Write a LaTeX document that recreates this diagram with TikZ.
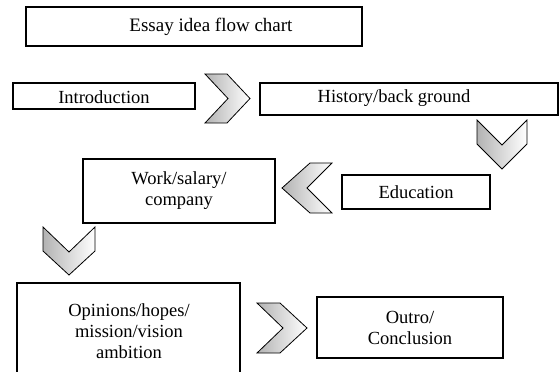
\documentclass[tikz,border=0pt]{standalone}
\usepackage{fontspec}
\setmainfont{Liberation Serif}
\begin{document}
\begin{tikzpicture}[x=1pt,y=-1pt,
  box/.style={draw, line width=1.3pt, fill=white, inner sep=0pt},
  chev/.style={draw, line width=0.8pt, line join=miter, left color=gray!60, right color=white},
  txt/.style={font=\fontsize{18.5}{21}\selectfont, align=center, inner sep=0pt}]
\useasboundingbox (0,0) rectangle (560,372);
\clip (0,0) rectangle (560,372);
% boxes
\node[box, minimum width=336, minimum height=39] (title) at (194,26.5) {};
\node[txt, font=\fontsize{19}{21}\selectfont] (titletext) at (211,27) {Essay idea flow chart};
\node[box, minimum width=182, minimum height=26] (intro) at (104,96) {};
\node[txt, anchor=base] (introtext) at (104,103.5) {Introduction};
\node[box, minimum width=298, minimum height=32] (hist) at (409,99) {};
\node[txt] (histtext) at (394,98) {History/back ground};
\node[box, txt, minimum width=148, minimum height=34] (edu) at (416,192) {Education};
\node[box, txt, minimum width=192, minimum height=64] (work) at (179,191) {Work/salary/\\company};
\node[box, minimum width=223, minimum height=94] (opin) at (128.5,330) {};
\node[txt] (opintext) at (129,331) {Opinions/hopes/\\mission/vision\\ambition};
\node[box, txt, minimum width=186, minimum height=61] (outro) at (410,327.5) {Outro/\\Conclusion};
% chevrons
\path[chev] (205,74) -- (227,74) -- (250,98.5) -- (227,123) -- (205,123) -- (228,98.5) -- cycle;
\path[chev] (477,120) -- (502,145) -- (527,120) -- (527,144) -- (502,169) -- (477,144) -- cycle;
\path[chev] (332,163) -- (310,163) -- (282,188) -- (310,213) -- (332,213) -- (307,188) -- cycle;
\path[chev] (43,227) -- (69,252) -- (95,227) -- (95,251) -- (69,275) -- (43,251) -- cycle;
\path[chev] (257,303) -- (280,303) -- (307,328) -- (280,353) -- (257,353) -- (283,328) -- cycle;
\end{tikzpicture}
\end{document}
